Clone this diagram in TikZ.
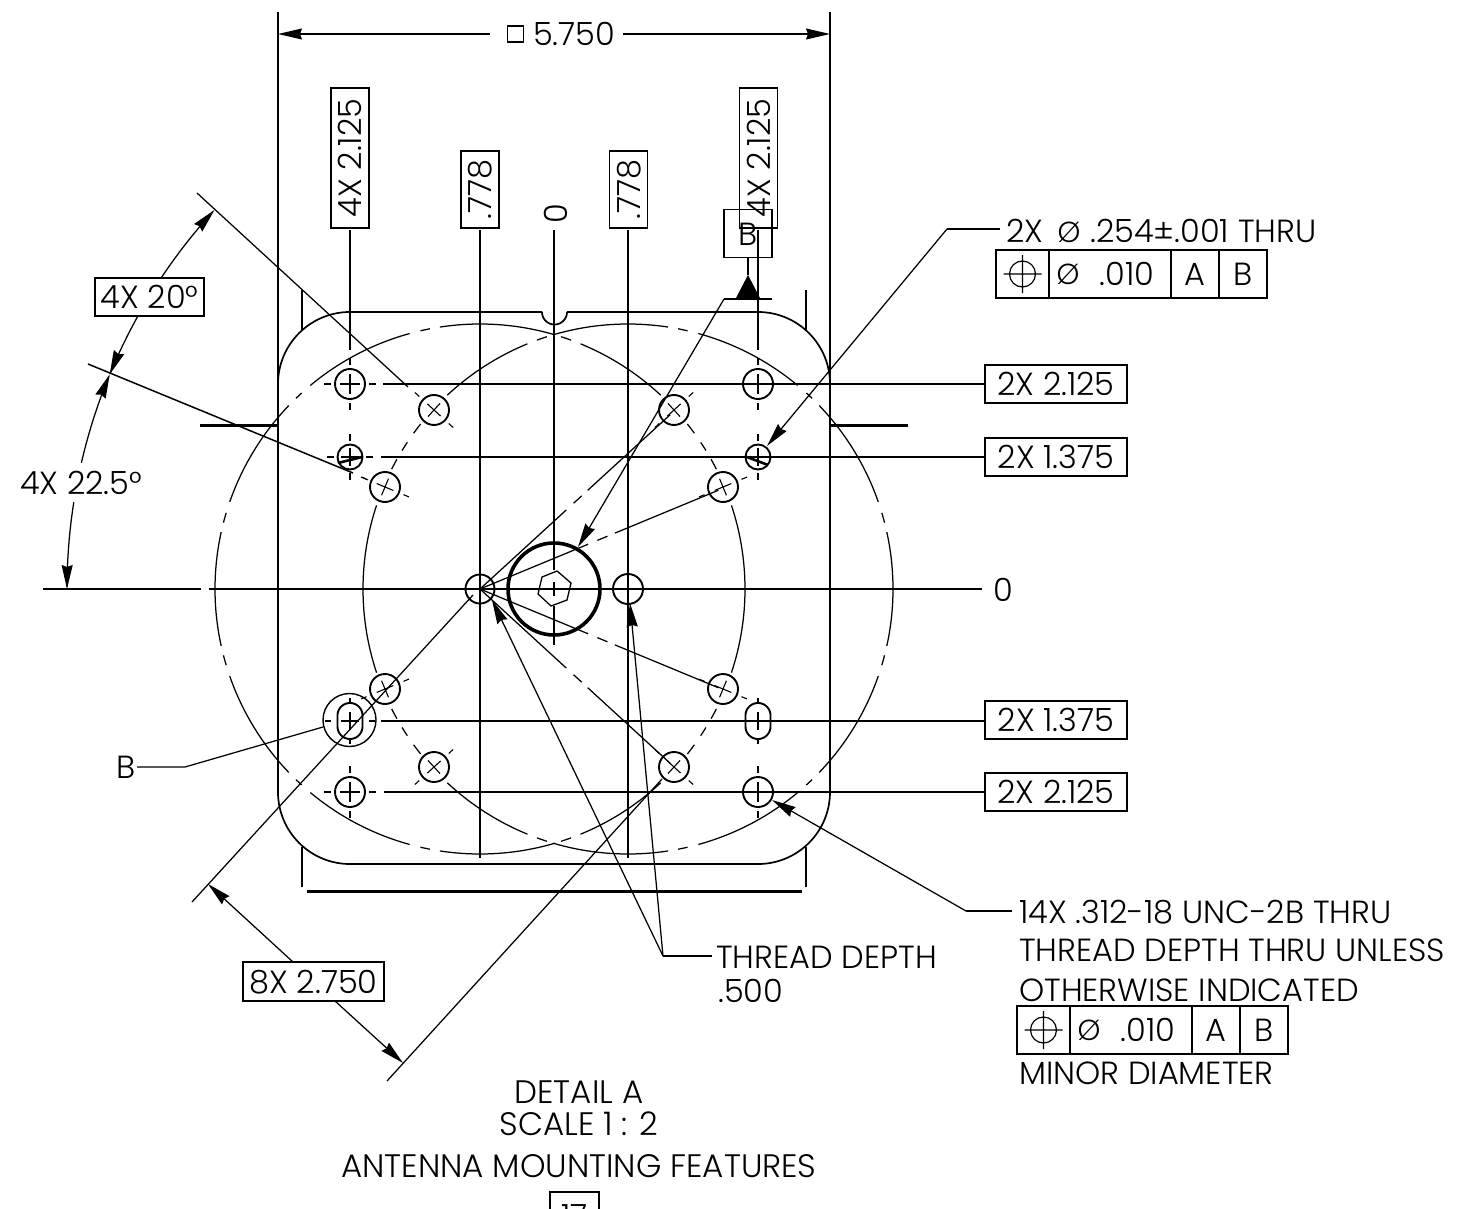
\documentclass[tikz,border=0pt]{standalone}
\usepackage{fontspec}
\setmainfont{Poppins Light}
\usetikzlibrary{arrows.meta,calc}
\newcommand\arcpl[5]{plot[domain=#4:#5,samples=36,variable=\ang,smooth] ({#1+#3*cos(\ang)},{#2-#3*sin(\ang)})}
\tikzset{
  x=1pt,y=-1pt,
  ln/.style={line width=1.25pt,line cap=butt},
  outl/.style={line width=1.7pt},
  hl/.style={line width=1.9pt},
  thin tick/.style={line width=1.1pt},
  heavy/.style={line width=3pt},
  arr/.style={line width=1.25pt,-{Stealth[inset=2pt,length=24pt,width=11pt]}},
  lbl/.style={anchor=base west,inner sep=0pt,font=\fontsize{32}{36}\selectfont},
  ctr/.style={anchor=base,inner sep=0pt,font=\fontsize{32.5}{36}\selectfont},
  dimbox/.style={draw,line width=1.3pt,inner sep=0pt,text height=23pt,text depth=0pt,font=\fontsize{32}{36}\selectfont,align=center},
  cell/.style={draw,line width=1.3pt,outer sep=0pt,anchor=north west,inner sep=0pt,minimum height=48pt,text height=23pt,text depth=0pt,font=\fontsize{32}{36}\selectfont},
  dia/.style={inner sep=0pt,font=\fontsize{29}{32}\selectfont},
}
% plus-type hole: centre, radius, tick start, tick end
\newcommand\phole[5]{%
  \draw[hl] (#1,#2) circle[radius=#3pt];
  \draw[thin tick] (#1-#4,#2)--(#1+#4,#2) (#1,#2-#4)--(#1,#2+#4)
     (#1-#5,#2)--(#1-#5-7,#2) (#1+#5,#2)--(#1+#5+7,#2)
     (#1,#2-#5)--(#1,#2-#5-7) (#1,#2+#5)--(#1,#2+#5+7);
}
% cross-type hole: centre, rotation
\newcommand\xhole[3]{%
  \draw[hl] (#1,#2) circle[radius=15pt];
  \begin{scope}[shift={(#1,#2)},rotate=#3]
    \draw[thin tick] (-9,0)--(9,0) (0,-9)--(0,9) (20,0)--(26,0) (-20,0)--(-26,0);
  \end{scope}
}
\newcommand\obr[2]{%
  \draw[hl] plot[domain=0:180,samples=30,variable=\ang] ({#1+12.5*cos(\ang)},{#2-5.5-12.5*sin(\ang)}) -- plot[domain=180:360,samples=30,variable=\ang] ({#1+12.5*cos(\ang)},{#2+5.5-12.5*sin(\ang)}) -- cycle;
  \draw[thin tick] (#1-9,#2)--(#1+9,#2) (#1,#2-9)--(#1,#2+9) (#1-25,#2)--(#1-19,#2) (#1+19,#2)--(#1+25,#2)
     (#1,#2-23)--(#1,#2-19) (#1,#2+19)--(#1,#2+23);
}
\newcommand\radial[1]{%
  \begin{scope}[shift={(480,589)},rotate=#1]
    \draw[ln] (0,0)--(117,0) (127,0)--(138,0) (146,0)--(258,0);
  \end{scope}
}
% feature control frame
\newcommand\fcf[3]{%
  \node[cell,minimum width=53pt] (#3a) at (#1,#2) {};
  \node[cell,minimum width=122pt] (#3b) at (#3a.north east) {};
  \node[cell,minimum width=48pt] (#3c) at (#3b.north east) {A};
  \node[cell,minimum width=48pt] (#3d) at (#3c.north east) {B};
  \draw[line width=1.2pt] (#3a.center) circle[radius=13pt] ($(#3a.center)+(-19,0)$)--($(#3a.center)+(19,0)$) ($(#3a.center)+(0,-19)$)--($(#3a.center)+(0,19)$);
  \node[dia] (#3p) at ($(#3b.west)+(19,0)$) {Ø};
  \node[inner sep=0pt,text height=23pt,text depth=0pt,font=\fontsize{32}{36}\selectfont] (#3v) at ($(#3b.west)+(78,0)$) {.010};
}
\begin{document}
\begin{tikzpicture}
\path[use as bounding box] (0,0) rectangle (1480,1209);
\clip (0,0) rectangle (1480,1209);
\coordinate (cl) at (480,589);
\coordinate (cr) at (628,589);

% body outline
\draw[outl,rounded corners=72pt] (567,312) -- (830,312) -- (830,864) -- (278,864) -- (278,312) -- (542,312);
\draw[outl] \arcpl{554.5}{312}{12.5}{180}{360};
\draw[ln] (278,12)--(278,384) (830,12)--(830,384);
\draw[heavy] (200,425)--(278,425) (830,425)--(908,425);
\draw[outl] (302,290)--(302,330) (806,290)--(806,330) (302,847)--(302,887) (806,847)--(806,887);
\draw[heavy] (307,891)--(802,891);

% bolt circles
\foreach \a/\b in {0/12.4,14.5/16.7,19.2/43.8,46/47.7,50.2/74.6,77/79.1,81.3/106.4,107.8/110.1,112.3/133,141.5/144,146.4/148.5,150.7/153.1,161.6/180}{
  \draw[ln] \arcpl{628}{589}{265}{\a}{\b};
  \draw[ln] \arcpl{628}{589}{265}{-\a}{-\b};
  \draw[ln] \arcpl{480}{589}{265}{180-\a}{180-\b};
  \draw[ln] \arcpl{480}{589}{265}{180+\a}{180+\b};
}

% centre lines
\draw[ln] (43,589)--(201,589) (209,589)--(982,589);
\draw[ln] (480,230)--(480,858) (628,230)--(628,858);
\draw[ln] (554,230)--(554,570) (554,582)--(554,596) (554,606)--(554,645);
\draw[ln] (350,230)--(350,350) (758,230)--(758,350);
\draw[ln] (383,384)--(984,384) (381,457)--(984,457) (381,721)--(984,721) (384,792)--(984,792);

% holes
\phole{350}{384}{15}{10}{19}
\phole{758}{384}{15}{10}{19}
\phole{350}{792}{15}{10}{19}
\phole{758}{792}{15}{10}{19}
\phole{350}{457}{12.5}{9}{16}
\phole{758}{457}{12.5}{9}{16}
\draw[line width=2.6pt] (338,463)--(362,457) (747,457)--(768,465);
\obr{350}{721}
\obr{758}{721}
\draw[line width=1.4pt] (349.5,720) circle[radius=26.5pt];
\xhole{434}{410}{137.5}
\xhole{385}{487}{157.5}
\xhole{385}{689}{202.5}
\xhole{434}{767}{222.5}
\xhole{674}{410}{42.5}
\xhole{723}{487}{22.5}
\xhole{723}{689}{-22.5}
\xhole{674}{767}{-42.5}
\draw[hl] (cl) circle[radius=14.5pt];
\draw[hl] (cr) circle[radius=15pt];
\draw[thin tick] (480,575)--(480,603) (466,589)--(494,589) (628,578)--(628,600) (617,589)--(639,589);
\draw[line width=3.6pt] (554,589) circle[radius=46pt];
\draw[line width=1.3pt] (557,571)--(571,583)--(567,600)--(551,606)--(538,594)--(542,577)--cycle;

% radial lines from the left centre hole
\radial{42.5}
\radial{22.5}
\radial{-22.5}
\radial{-42.5}

% extension lines for the angles and the bolt spacing
\draw[ln] (197,193)--(408,387);
\draw[line width=1.5pt] (88,364)--(353,473);
\draw[thin tick] (362,477)--(368,480);
\draw[ln] (192,902)--(473,595);
\draw[ln] (387,1081)--(662,779);

% top dimension
\node[inner sep=0pt,draw,line width=1.2pt,minimum size=16pt] (sq) at (515.5,34) {};
\node[lbl] (dimtop) at (533,46) {5.750};
\draw[arr] ($(sq.west)+(-17,0)$) -- (278,34);
\draw[arr] ($(dimtop.base east)+(8,-12)$) -- (830,34);

% top boxed dims
\node[dimbox,rotate=90,minimum width=140pt,minimum height=38pt] (v1) at (350,158) {4X 2.125};
\node[dimbox,rotate=90,minimum width=77pt,minimum height=38pt] (v2) at (480,189.5) {.778};
\node[dimbox,rotate=90,minimum width=77pt,minimum height=38pt] (v3) at (628.5,189.5) {.778};
\node[dimbox,rotate=90,minimum width=140pt,minimum height=38pt] (v4) at (758.5,158) {4X 2.125};
\node[inner sep=0pt,rotate=90,text height=23pt,text depth=0pt,font=\fontsize{32}{36}\selectfont] (v0) at (556,213.5) {0};

% datum B
\node[draw,line width=1.3pt,minimum size=48pt,inner sep=0pt,text height=23pt,text depth=0pt,font=\fontsize{32}{36}\selectfont] (datum) at (748,233.5) {B};
\coordinate (dl) at (724,299);
\coordinate (apex) at (748,275);
\draw[line width=1.3pt] (datum.south) -- (apex);
\fill (apex) -- (736,298) -- (760,298) -- cycle;
\draw[line width=1.3pt] (dl) -- (772,299);
\draw[arr] (dl) -- (578,547);

% right boxed dims
\node[dimbox,minimum width=142pt,minimum height=38pt] (r1) at (1056,384) {2X 2.125};
\node[dimbox,minimum width=142pt,minimum height=38pt] (r2) at (1056,457) {2X 1.375};
\node[dimbox,minimum width=142pt,minimum height=38pt] (r3) at (1056,720) {2X 1.375};
\node[dimbox,minimum width=142pt,minimum height=38pt] (r4) at (1056,792) {2X 2.125};
\node[lbl] (zero) at (993,601) {0};

% angle dimensions
\node[dimbox,minimum width=109pt,minimum height=38pt] (a20) at (149.5,297) {4X 20°};
\node[lbl] (a225) at (20,494) {4X 22.5°};
\draw[arr] \arcpl{628}{589}{561}{146.3}{137.5};
\draw[arr] \arcpl{628}{589}{561}{150.9}{157.5};
\draw[arr] \arcpl{628}{589}{561}{167}{157.5};
\draw[arr] \arcpl{628}{589}{561}{171.1}{180};

% 8X dimension
\node[dimbox,minimum width=141pt,minimum height=39pt] (d8) at (313.5,981.5) {8X 2.750};
\draw[arr] (293,962) -- (208,884);
\draw[arr] (335,1001) -- (403,1063);

% B leader
\node[lbl] (bb) at (116,778) {B};
\coordinate (bk) at (185,767);
\draw[ln] (137,767) -- (bk) -- (323,727);

% hole note, top
\coordinate (k1) at (947,229);
\node[lbl] (n1) at (1006,243) {2X};
\node[dia] (n1p) at (1069,232) {Ø};
\node[lbl] (n1b) at (1090,243) {.254±.001 THRU};
\draw[ln] (1000,229) -- (k1);
\draw[arr] (k1) -- (767,446);
\fcf{996}{250}{fa}

% hole note, bottom
\coordinate (k2) at (966,911);
\node[lbl] (m1) at (1019,923) {14X .312-18 UNC-2B THRU};
\node[lbl] (m2) at (1019,961) {THREAD DEPTH THRU UNLESS};
\node[lbl] (m3) at (1019,1001) {OTHERWISE INDICATED};
\fcf{1017}{1006}{fb}
\node[lbl] (m4) at (1019,1084) {MINOR DIAMETER};
\draw[ln] (1012,911) -- (k2);
\draw[arr] (k2) -- (772,800);

% thread depth note
\coordinate (k3) at (663,956);
\node[lbl] (t1) at (716,968) {THREAD DEPTH};
\node[lbl] (t2) at (718,1002) {.500};
\draw[ln] (712,956) -- (k3);
\draw[arr] (k3) -- (492,600);
\draw[arr] (k3) -- (630,603);

% title
\node[ctr] (c1) at (579,1103) {DETAIL A};
\node[ctr] (c2) at (579,1135) {SCALE 1 : 2};
\node[ctr] (c3) at (579,1177) {ANTENNA MOUNTING FEATURES};
\node[draw,line width=1.3pt,minimum width=49pt,minimum height=48pt,inner sep=0pt,text height=23pt,text depth=0pt,font=\fontsize{32}{36}\selectfont] (c4) at (574.5,1216) {17};
\end{tikzpicture}
\end{document}
